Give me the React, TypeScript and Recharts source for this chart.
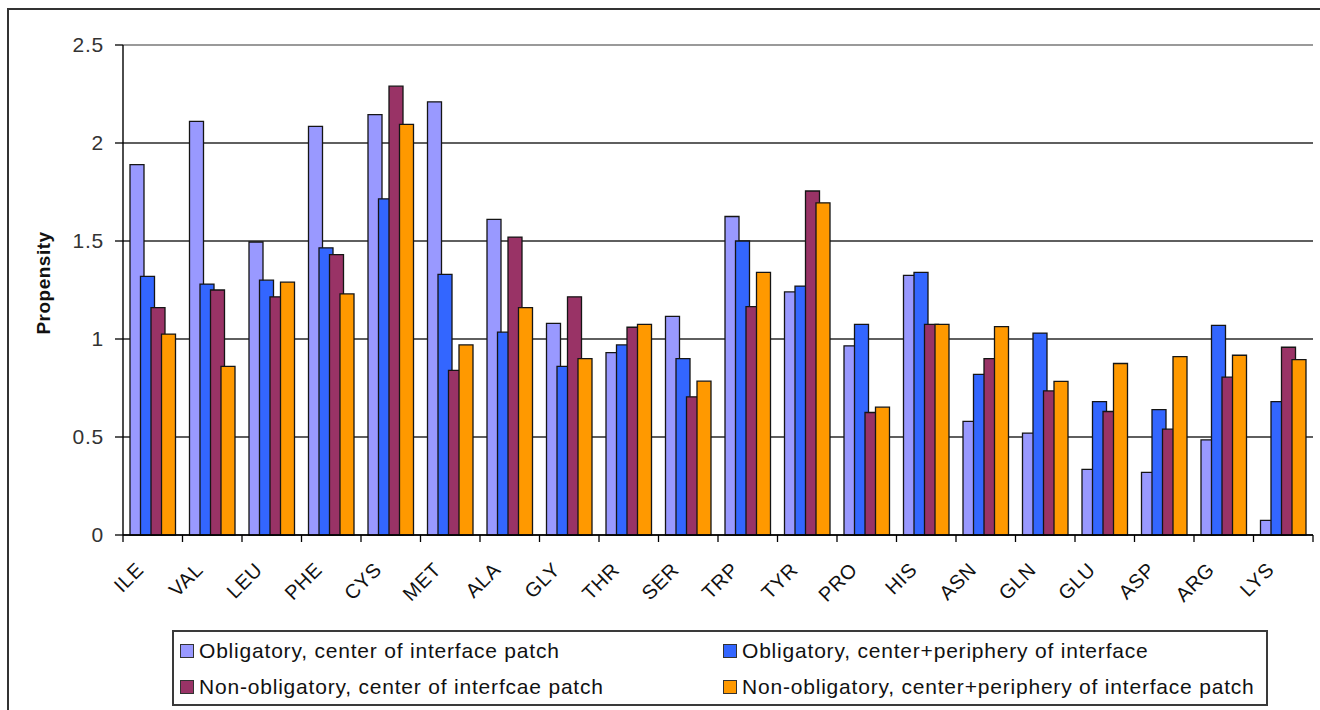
import React from 'react';
import { BarChart, Bar, XAxis, YAxis, CartesianGrid, ReferenceLine, Legend, Label } from 'recharts';

const categories = ['ILE', 'VAL', 'LEU', 'PHE', 'CYS', 'MET', 'ALA', 'GLY', 'THR', 'SER', 'TRP', 'TYR', 'PRO', 'HIS', 'ASN', 'GLN', 'GLU', 'ASP', 'ARG', 'LYS'];
const obligatoryCenter = [1.89, 2.11, 1.495, 2.085, 2.145, 2.21, 1.61, 1.08, 0.93, 1.115, 1.625, 1.24, 0.965, 1.325, 0.58, 0.52, 0.335, 0.32, 0.485, 0.075];
const obligatoryFull = [1.32, 1.28, 1.3, 1.465, 1.715, 1.33, 1.035, 0.86, 0.97, 0.9, 1.5, 1.27, 1.075, 1.34, 0.82, 1.03, 0.68, 0.64, 1.07, 0.68];
const nonObligatoryCenter = [1.16, 1.25, 1.215, 1.43, 2.29, 0.84, 1.52, 1.215, 1.06, 0.705, 1.165, 1.755, 0.625, 1.075, 0.9, 0.735, 0.63, 0.54, 0.805, 0.958];
const nonObligatoryFull = [1.025, 0.86, 1.29, 1.23, 2.095, 0.97, 1.16, 0.9, 1.075, 0.785, 1.34, 1.695, 0.652, 1.075, 1.063, 0.784, 0.875, 0.91, 0.917, 0.895];
const yTicks = [0, 0.5, 1, 1.5, 2, 2.5];

const seriesKeys = ['s0', 's1', 's2', 's3'];
const seriesNames = [
  'Obligatory, center of interface patch',
  'Obligatory, center+periphery of interface',
  'Non-obligatory, center of interfcae patch',
  'Non-obligatory, center+periphery of interface patch',
];
const seriesColors = ['#9999FF', '#3366FF', '#993366', '#FF9900'];
const seriesValues = [obligatoryCenter, obligatoryFull, nonObligatoryCenter, nonObligatoryFull];

const data = categories.map((name, i) => {
  const row: any = { name };
  seriesKeys.forEach((k, j) => {
    row[k] = seriesValues[j][i];
  });
  return row;
});

const FONT = '"Liberation Sans", Arial, Helvetica, sans-serif';

function CategoryTick(props: any) {
  const { x, y, payload, index } = props;
  const half = payload && typeof payload.offset === 'number' && payload.offset > 0 ? payload.offset : 29.75;
  const lx = x - 8;
  const ly = y + 36;
  return (
    <g>
      <line x1={x - half} x2={x - half} y1={y} y2={y + 7} stroke="#000" strokeWidth={1.3} />
      {index === categories.length - 1 && (
        <line x1={x + half} x2={x + half} y1={y} y2={y + 7} stroke="#000" strokeWidth={1.3} />
      )}
      <text
        x={lx}
        y={ly}
        transform={`rotate(-45, ${lx}, ${ly})`}
        textAnchor="end"
        fontSize={20}
        fontFamily={FONT}
        letterSpacing={0.6}
        fill="#111"
      >
        {payload.value}
      </text>
    </g>
  );
}

function YTitle(props: any) {
  const vb = props.viewBox || { x: 63, y: 45, width: 60, height: 490 };
  const cx = 50;
  const cy = vb.y + vb.height / 2 - 7;
  return (
    <text
      x={cx}
      y={cy}
      transform={`rotate(-90, ${cx}, ${cy})`}
      textAnchor="middle"
      fontSize={19}
      fontWeight="bold"
      fontFamily={FONT}
      letterSpacing={0.5}
      fill="#111"
    >
      Propensity
    </text>
  );
}

function LegendBox(props: any) {
  const payload = [...(props.payload || [])].sort(
    (a: any, b: any) => seriesNames.indexOf(a.value) - seriesNames.indexOf(b.value)
  );
  return (
    <div
      style={{
        boxSizing: 'border-box',
        width: '100%',
        height: '100%',
        border: '2px solid #3a3a3a',
        background: '#fff',
        display: 'grid',
        gridTemplateColumns: '1fr 1fr',
        gridAutoRows: '36px',
        padding: '1px 0 0 6px',
        fontFamily: FONT,
        fontSize: 21,
        letterSpacing: 0.8,
        color: '#111',
      }}
    >
      {payload.map((p: any) => (
        <div key={p.value} style={{ display: 'flex', alignItems: 'center', whiteSpace: 'nowrap' }}>
          <span
            style={{
              width: 14,
              height: 14,
              boxSizing: 'border-box',
              border: '1.5px solid #333',
              background: p.color,
              marginRight: 5,
              display: 'inline-block',
              flex: '0 0 auto',
            }}
          />
          <span>{p.value}</span>
        </div>
      ))}
    </div>
  );
}

export default function App() {
  return (
    <div style={{ position: 'relative', width: 1320, height: 710, overflow: 'hidden', background: '#fff' }}>
      <style>{'body{margin:0;overflow:hidden;}'}</style>
      <div
        style={{
          position: 'absolute',
          left: 7,
          top: 8,
          right: -10,
          bottom: -10,
          borderTop: '2px solid #333',
          borderLeft: '2px solid #333',
        }}
      />
      <div style={{ position: 'absolute', left: 0, top: 0 }}>
        <BarChart
          width={1320}
          height={710}
          data={data}
          margin={{ top: 45, right: 7, bottom: 145, left: 63 }}
          barSize={14}
          barGap={-3.5}
        >
          <CartesianGrid vertical={false} stroke="#2a2a2a" strokeWidth={1.4} />
          <XAxis
            dataKey="name"
            height={30}
            interval={0}
            tickSize={0}
            tickMargin={0}
            tickLine={false}
            axisLine={{ stroke: '#000', strokeWidth: 1.4 }}
            tick={<CategoryTick />}
          />
          <YAxis
            width={60}
            domain={[0, 2.5]}
            ticks={yTicks}
            interval={0}
            tickSize={8}
            tickMargin={11}
            axisLine={{ stroke: '#000', strokeWidth: 1.4 }}
            tickLine={{ stroke: '#000', strokeWidth: 1.3 }}
            tick={{ fontSize: 21, fontFamily: FONT, fill: '#333', letterSpacing: 0.8 }}
          >
            <Label content={<YTitle />} />
          </YAxis>
          <YAxis
            yAxisId="right"
            orientation="right"
            width={0}
            domain={[0, 2.5]}
            tick={false}
            tickLine={false}
            axisLine={{ stroke: '#9a9a9a', strokeWidth: 2 }}
          />
          <ReferenceLine y={2.5} stroke="#9a9a9a" strokeWidth={2} />
          {seriesKeys.map((k, j) => (
            <Bar
              key={k}
              dataKey={k}
              name={seriesNames[j]}
              fill={seriesColors[j]}
              stroke="#151515"
              strokeWidth={1.3}
              isAnimationActive={false}
            />
          ))}
          <Legend
            layout="horizontal"
            verticalAlign="middle"
            align="center"
            content={<LegendBox />}
            wrapperStyle={{ left: 172, top: 630, width: 1096, height: 76 }}
          />
        </BarChart>
      </div>
    </div>
  );
}
